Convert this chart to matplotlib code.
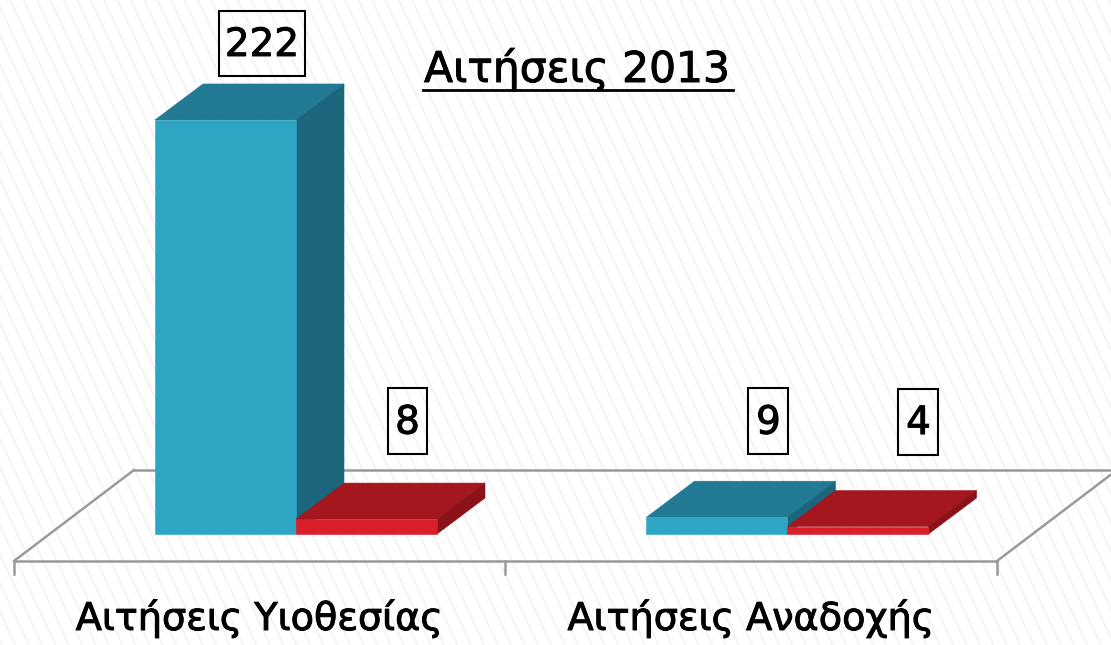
import numpy as np
import matplotlib
matplotlib.use("Agg")
import matplotlib.pyplot as plt
import matplotlib.patheffects as pe
from matplotlib.patches import Polygon, Rectangle

# values
categories = ["Αιτήσεις Υιοθεσίας", "Αιτήσεις Αναδοχής"]
series_a = [222, 9]
series_b = [8, 4]
title = "Αιτήσεις 2013"

# scale of the picture: pixels per category, pixels per unit of value
px_x = 491.5
px_y = 1.865
depth_x = 48 / px_x
depth_y = 36 / px_y
bar_w = 141 / px_x
bar_start = 141 / px_x

# label box centres relative to the bar (pixels) and box sizes
offset_a = [(36.5, 76.5), (51.5, 96)]
offset_b = [(41, 98), (60.5, 105)]
box_a = [(86, 65), (40, 66)]
box_b = [(39, 66), (40, 66)]

blue = ("#2ea5c2", "#237a94", "#1c667d")
red = ("#db1f2a", "#a4171e", "#8a1218")

# a thin outline makes the text as heavy as in the picture
heavy = [pe.withStroke(linewidth=0.7, foreground="black")]

fig = plt.figure(figsize=(11.11, 6.45), dpi=100)
ax = fig.add_axes([0, 0, 1, 1])
ax.set_xlim(-14 / px_x, (1111 - 14) / px_x)
ax.set_ylim(-(645 - 534) / px_y, 534 / px_y)
ax.axis("off")

# faint diagonal stripes of the slide background
xmin, xmax = ax.get_xlim()
ymin, ymax = ax.get_ylim()
for start in np.arange(-700, 1111, 13.4):
    ax.plot([(start - 14) / px_x, (start + 300 - 14) / px_x], [ymax, ymax - 645 / px_y],
            color="#f3f3f3", lw=1.3, zorder=0)


def draw_bar(x, value, colors):
    front, top, side = colors
    ax.add_patch(Polygon([(x, value), (x + bar_w, value),
                          (x + bar_w + depth_x, value + depth_y), (x + depth_x, value + depth_y)],
                         fc=top, ec=top, lw=0.4, zorder=3))
    ax.add_patch(Polygon([(x + bar_w, 0), (x + bar_w + depth_x, depth_y),
                          (x + bar_w + depth_x, value + depth_y), (x + bar_w, value)],
                         fc=side, ec=side, lw=0.4, zorder=3))
    ax.add_patch(Rectangle((x, 0), bar_w, value, fc=front, ec=front, lw=0.4, zorder=3))


def draw_label(x, value, offset, box):
    cx = x + bar_w / 2 + offset[0] / px_x
    cy = value + offset[1] / px_y
    w = box[0] / px_x
    h = box[1] / px_y
    ax.add_patch(Rectangle((cx - w / 2, cy - h / 2), w, h, fc="none", ec="black", lw=1.5, zorder=4))
    ax.text(cx, cy + 2.5 / px_y, str(value), ha="center", va="center_baseline", fontsize=28,
            color="black", zorder=5, path_effects=heavy)


# floor of the 3D chart
floor_y = -27 / px_y
back_y = 64 / px_y
floor_dx = 120 / px_x
grey = "#9a9a9a"
ax.plot([0, 2], [floor_y, floor_y], color=grey, lw=1.8, zorder=2)
ax.plot([floor_dx, xmax], [back_y, back_y], color=grey, lw=1.8, zorder=2)
ax.plot([0, floor_dx], [floor_y, back_y], color=grey, lw=1.8, zorder=2)
ax.plot([2, 2 + floor_dx], [floor_y, back_y], color=grey, lw=1.8, zorder=2)
for t in range(3):
    ax.plot([t, t], [floor_y, floor_y - 13 / px_y], color=grey, lw=1.8, zorder=2)

for i, name in enumerate(categories):
    x_a = i + bar_start
    x_b = x_a + bar_w
    draw_bar(x_a, series_a[i], blue)
    draw_bar(x_b, series_b[i], red)
    draw_label(x_a, series_a[i], offset_a[i], box_a[i])
    draw_label(x_b, series_b[i], offset_b[i], box_b[i])
    ax.text(i + 0.5, -96 / px_y, name, ha="center", va="baseline", fontsize=27.5, color="black",
            path_effects=heavy)

# title with underline
title_x = (577 - 14) / px_x
ax.text(title_x, (534 - 82) / px_y, title, ha="center", va="baseline", fontsize=30.5, color="black",
        path_effects=heavy)
ax.plot([(423 - 14) / px_x, (733 - 14) / px_x], [(534 - 90) / px_y] * 2, color="black", lw=2)

fig.savefig("out.png", dpi=100)
